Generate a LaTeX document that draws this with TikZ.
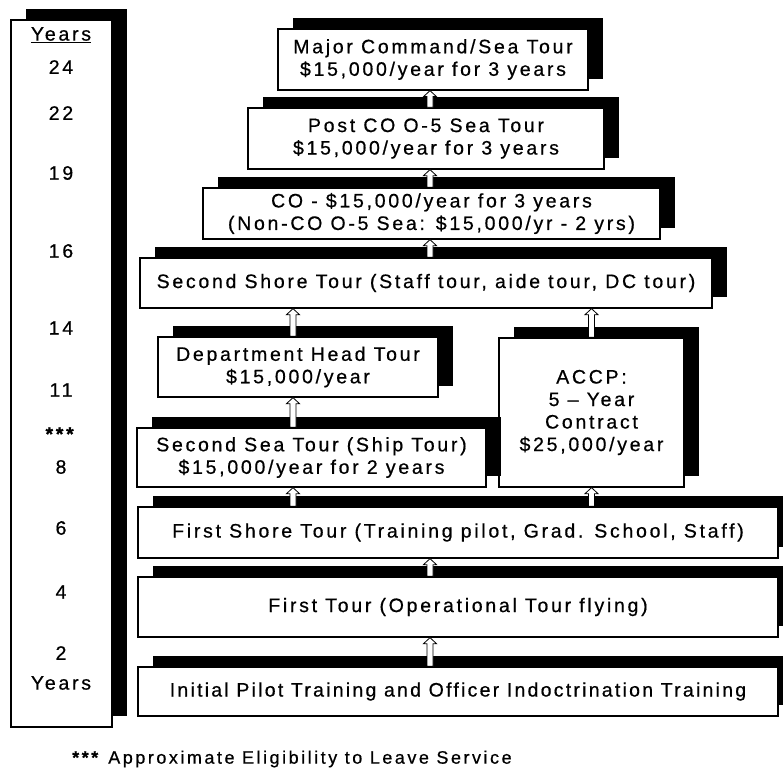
\documentclass[tikz,border=0pt]{standalone}
\usepackage{fontspec}
\setmainfont{Liberation Sans}
\newfontfamily\tourfont[LetterSpace=14,FakeBold=0.6]{Liberation Sans}
\newfontfamily\tighttourfont[LetterSpace=11.5,FakeBold=0.6]{Liberation Sans}
\usetikzlibrary{shadows,calc}
\begin{document}
\begin{tikzpicture}[x=1pt,y=-1pt,
  tour/.style={draw, line width=1.3pt, fill=white, inner sep=0pt, align=center,
    font=\tourfont\fontsize{19.5}{22.5}\selectfont,
    drop shadow={shadow xshift=15pt, shadow yshift=11pt, fill=black, opacity=1}},
  yr/.style={inner sep=0pt, font=\tourfont\fontsize{19.5}{22}\selectfont},
  uparr/.style={draw, fill=white, line width=0.8pt,
    to path={let \p1=(\tikztostart), \p2=(\tikztotarget) in
      (\x1-3pt,\y1) -- (\x1-3pt,\y2-6pt) -- (\x1-6.5pt,\y2-6pt) -- (\x1,\y2)
      -- (\x1+6.5pt,\y2-6pt) -- (\x1+3pt,\y2-6pt) -- (\x1+3pt,\y1) -- cycle}}]
\fill[white] (0,0) rectangle (783,770);
\useasboundingbox (0,0) rectangle (783,770);
\clip (0,0) rectangle (783,770);

% Years column
\node[tour, minimum width=101pt, minimum height=707pt] (years) at (61.5,373.5) {};
\node[yr] (yh) at (61,35) {\underline{Years}};
\node[yr] (y24) at (61,67) {24};
\node[yr] (y22) at (61,113) {22};
\node[yr] (y19) at (61,173) {19};
\node[yr] (y16) at (61,251) {16};
\node[yr] (y14) at (61,328) {14};
\node[yr] (y11) at (61,390) {11};
\node[yr] (ys) at (61,434) {\textbf{***}};
\node[yr] (y8) at (61,467) {8};
\node[yr] (y6) at (61,528) {6};
\node[yr] (y4) at (61,592) {4};
\node[yr] (y2) at (61,653) {2};
\node[yr] (yf) at (61,683) {Years};

% Tour boxes
\node[tour, minimum width=310pt, minimum height=61pt] (major) at (433,59.5)
  {Major Command/Sea Tour\\\$15,000/year for 3 years};
\node[tour, minimum width=356pt, minimum height=61pt] (postco) at (426,138.5)
  {Post CO O-5 Sea Tour\\\$15,000/year for 3 years};
\node[tour, minimum width=457pt, minimum height=51pt] (co) at (431.5,213.5)
  {CO - \$15,000/year for 3 years\\(Non-CO O-5 Sea: \$15,000/yr - 2 yrs)};
\node[tour, minimum width=572pt, minimum height=50pt] (shore2) at (426,283)
  {Second Shore Tour (Staff tour, aide tour, DC tour)};
\node[tour, minimum width=280pt, minimum height=60pt] (dept) at (298,367)
  {Department Head Tour\\\$15,000/year};
\node[tour, minimum width=185pt, minimum height=149pt] (accp) at (591.5,412.5)
  {ACCP:\\5 – Year\\Contract\\\$25,000/year};
\node[tour, minimum width=349pt, minimum height=59pt] (sea2) at (311.5,457.5)
  {Second Sea Tour (Ship Tour)\\\$15,000/year for 2 years};
\node[tour, minimum width=640pt, minimum height=51pt] (shore1) at (458,532.5)
  {First Shore Tour (Training pilot, Grad. School, Staff)};
\node[tour, minimum width=640pt, minimum height=60pt] (first) at (458,607)
  {First Tour (Operational Tour flying)};
\node[tour, minimum width=640pt, minimum height=49pt,
  font=\tighttourfont\fontsize{19.5}{22.5}\selectfont] (init) at (458,691.5)
  {Initial Pilot Training and Officer Indoctrination Training};

% arrow columns
\coordinate (colA) at (430,0);
\coordinate (colB) at (293,0);

\path[uparr] (init.north -| colA) to (first.south -| colA);
\path[uparr] (first.north -| colA) to (shore1.south -| colA);
\path[uparr] (shore1.north -| colB) to (sea2.south -| colB);
\path[uparr] (shore1.north -| accp.south) to (accp.south);
\path[uparr] (sea2.north -| colB) to (dept.south -| colB);
\path[uparr] (dept.north -| colB) to (shore2.south -| colB);
\path[uparr] (accp.north) to (shore2.south -| accp.north);
\path[uparr] (shore2.north -| colA) to (co.south -| colA);
\path[uparr] (co.north -| colA) to (postco.south -| colA);
\path[uparr] (postco.north -| colA) to (major.south -| colA);

% footnote
\node[anchor=west, inner sep=0pt, font=\tourfont\fontsize{18}{20}\selectfont] (note) at (72,759)
  {\textbf{***} Approximate Eligibility to Leave Service};
\end{tikzpicture}
\end{document}
